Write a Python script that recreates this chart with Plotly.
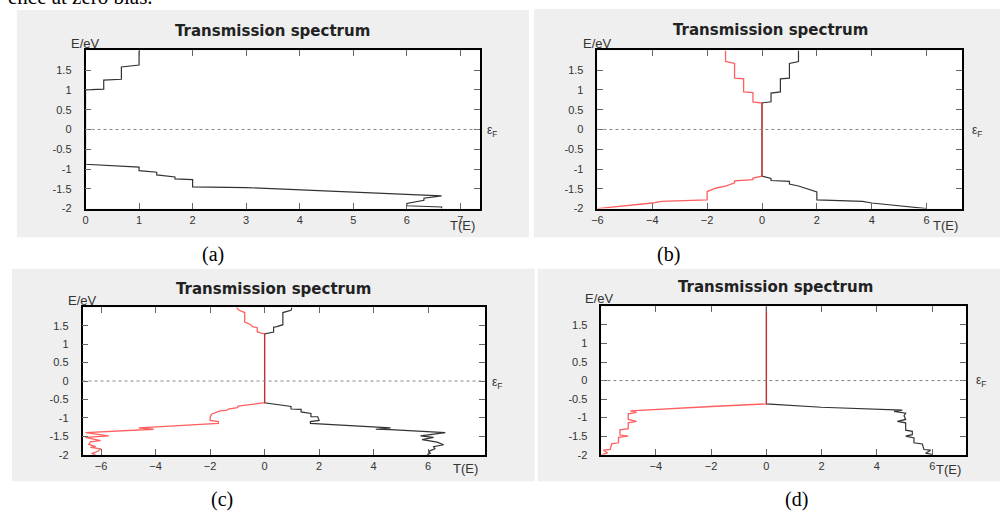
import plotly.graph_objects as go

W, H = 1000, 518

# ---- transmission data: T(E) for spin up (positive) and spin down (negative) ----
# (a) single spin channel
A_UP_E = [2.0, 1.63, 1.58, 1.27, 1.25, 1.02, 1.0, -0.88, -0.95, -1.04, -1.08, -1.15, -1.2,
          -1.25, -1.27, -1.45, -1.47, -1.56, -1.58, -1.68, -1.74, -1.79, -1.87, -1.93, -1.96, -2.0]
A_UP_T = [1.0, 1.0, 0.67, 0.67, 0.34, 0.34, 0.0, 0.0, 1.0, 1.0, 1.33, 1.33, 1.67,
          1.67, 2.0, 2.0, 3.0, 4.65, 4.67, 6.65, 6.32, 6.32, 6.0, 6.0, 6.65, 6.65]

# (b)
B_UP_E = [2.0, 1.72, 1.67, 1.3, 1.28, 0.95, 0.92, 0.7, 0.67, -1.18, -1.24, -1.29, -1.31,
          -1.38, -1.43, -1.58, -1.78, -1.82, -1.86, -2.0]
B_UP_T = [1.33, 1.33, 1.0, 1.0, 0.67, 0.67, 0.33, 0.33, 0.0, 0.0, 0.33, 0.33, 1.0,
          1.0, 1.33, 2.0, 2.0, 3.67, 4.0, 6.0]
B_DN_E = [2.0, 1.72, 1.67, 1.3, 1.28, 0.95, 0.93, 0.7, 0.67, -1.18, -1.23, -1.27, -1.3,
          -1.35, -1.43, -1.48, -1.57, -1.78, -1.82, -1.86, -2.0]
B_DN_T = [-1.33, -1.33, -1.0, -1.0, -0.67, -0.67, -0.33, -0.33, 0.0, 0.0, -0.33, -0.33, -1.0,
          -1.0, -1.33, -1.67, -2.0, -2.0, -3.67, -4.0, -6.0]

# (c)
C_UP_E = [2.0, 1.92, 1.86, 1.53, 1.48, 1.46, 1.33, 1.3, 1.28, -0.59, -0.69, -0.76, -0.77,
          -0.84, -0.88, -0.97, -0.97, -1.07, -1.1, -1.15, -1.26, -1.27, -1.31, -1.32, -1.4,
          -1.49, -1.53, -1.59, -1.66, -1.73, -1.78, -1.84, -1.91, -1.96, -2.0]
C_UP_T = [1.0, 0.97, 0.67, 0.67, 0.45, 0.33, 0.33, 0.15, 0.0, 0.0, 0.97, 0.97, 1.34,
          1.34, 1.7, 1.7, 1.95, 2.0, 1.68, 1.68, 4.0, 4.62, 4.08, 4.62, 6.63,
          5.72, 6.2, 5.78, 6.33, 6.57, 6.2, 6.25, 6.02, 6.08, 5.96]
C_DN_E = [2.0, 1.93, 1.86, 1.6, 1.53, 1.48, 1.45, 1.34, 1.3, 1.28, -0.59, -0.68, -0.72,
          -0.76, -0.8, -0.81, -0.9, -0.99, -1.07, -1.1, -1.15, -1.26, -1.27, -1.31, -1.33,
          -1.4, -1.49, -1.53, -1.62, -1.65, -1.72, -1.78, -1.8, -1.84, -1.9, -1.97, -2.0]
C_DN_T = [-1.03, -0.95, -0.73, -0.73, -0.5, -0.45, -0.27, -0.27, -0.12, 0.0, 0.0, -0.97, -1.0,
          -1.34, -1.4, -1.64, -1.95, -2.0, -2.0, -1.7, -1.7, -4.01, -4.62, -4.07, -4.6,
          -6.57, -5.72, -6.57, -6.02, -6.39, -6.45, -6.2, -6.39, -6.0, -6.1, -6.35, -6.2]

# (d)
D_UP_E = [2.0, -0.63, -0.72, -0.8, -0.83, -0.88, -0.95, -1.05, -1.1, -1.14, -1.34, -1.37,
          -1.46, -1.5, -1.55, -1.68, -1.71, -1.86, -1.88, -1.96, -2.0]
D_UP_T = [0.0, 0.0, 1.98, 4.92, 4.62, 5.04, 4.98, 5.04, 4.74, 5.04, 5.04, 5.28,
          5.28, 5.04, 5.34, 5.34, 5.64, 5.7, 5.94, 5.76, 6.02]
D_DN_E = [2.0, -0.63, -0.7, -0.8, -0.82, -0.86, -0.9, -1.05, -1.1, -1.14, -1.3, -1.33,
          -1.47, -1.5, -1.53, -1.68, -1.71, -1.86, -1.88, -1.95, -2.0]
D_DN_T = [0.0, 0.0, -2.0, -4.62, -4.92, -4.7, -5.0, -5.0, -4.7, -5.0, -5.0, -5.3,
          -5.3, -5.0, -5.35, -5.35, -5.6, -5.65, -5.9, -5.75, -5.95]

Y_TICKS = [-2, -1.5, -1, -0.5, 0, 0.5, 1, 1.5]
Y_TICK_TEXT = ["-2", "-1.5", "-1", "-0.5", "0", "0.5", "1", "1.5"]

PANEL_LABELS = ["(a)", "(b)", "(c)", "(d)"]

# panel geometry in pixels: plot box (left, top, right, bottom), grey frame, x range, x ticks
panels = [
    dict(box=(80, 51, 477, 211), frame=(11, 10, 526, 240), xr=[0, 7.37],
         xt=[0, 1, 2, 3, 4, 5, 6, 7], up=(A_UP_T, A_UP_E), dn=None,
         lab=(208, 257), tlab=(459, 228), ef=(489, 133), eev=(80, 44), title=(268, 31)),
    dict(box=(595, 51, 962, 211), frame=(531, 9, 1000, 240), xr=[-6, 7.3],
         xt=[-6, -4, -2, 0, 2, 4, 6], up=(B_UP_T, B_UP_E), dn=(B_DN_T, B_DN_E),
         lab=(666, 257), tlab=(945, 228), ef=(977, 133), eev=(595, 44), title=(769, 30)),
    dict(box=(77, 311, 482, 460), frame=(6, 272, 532, 487), xr=[-6.68, 8.09],
         xt=[-6, -4, -2, 0, 2, 4, 6], up=(C_UP_T, C_UP_E), dn=(C_DN_T, C_DN_E),
         lab=(217, 505), tlab=(462, 474), ef=(494, 387), eev=(77, 304), title=(269, 292)),
    dict(box=(599, 310, 966, 460), frame=(535, 272, 1000, 487), xr=[-5.97, 7.23],
         xt=[-4, -2, 0, 2, 4, 6], up=(D_UP_T, D_UP_E), dn=(D_DN_T, D_DN_E),
         lab=(795, 505), tlab=(948, 475), ef=(981, 385), eev=(597, 302), title=(774, 290)),
]


def px(x):
    return x / W


def py(y):
    return 1 - y / H


fig = go.Figure()
shapes = []
annotations = []
SANS = "Liberation Sans, Arial, sans-serif"
SERIF = "Liberation Serif, Times New Roman, serif"

for i, p in enumerate(panels):
    n = "" if i == 0 else str(i + 1)
    xa, ya = "x" + n, "y" + n
    l, t, r, b = p["box"]
    fl, ft, fr, fb = p["frame"]

    shapes.append(dict(type="rect", xref="paper", yref="paper", layer="below",
                       x0=px(fl), x1=px(fr), y0=py(fb), y1=py(ft),
                       fillcolor="#efefef", line=dict(width=0)))
    shapes.append(dict(type="rect", xref="paper", yref="paper", layer="below",
                       x0=px(l), x1=px(r), y0=py(b), y1=py(t),
                       fillcolor="white", line=dict(width=0)))
    # Fermi level
    shapes.append(dict(type="line", xref=xa + " domain", yref=ya, x0=0, x1=1, y0=0, y1=0,
                       line=dict(color="#888", width=1, dash="dot")))

    fig.add_trace(go.Scatter(x=p["up"][0], y=p["up"][1], mode="lines", xaxis=xa, yaxis=ya,
                             line=dict(color="#333333", width=1.2), showlegend=False))
    if p["dn"] is not None:
        fig.add_trace(go.Scatter(x=p["dn"][0], y=p["dn"][1], mode="lines", xaxis=xa, yaxis=ya,
                                 line=dict(color="#ff2a2a", width=1.3), opacity=0.75,
                                 showlegend=False))

    axis_common = dict(showline=True, linecolor="black", linewidth=1.6, mirror="ticks",
                       ticks="inside", ticklen=6, tickwidth=1, tickcolor="#666",
                       showgrid=False, zeroline=False,
                       tickfont=dict(family=SANS, size=11, color="#333"))
    fig.layout["xaxis" + n] = dict(domain=[px(l), px(r)], anchor=ya, range=p["xr"],
                                   tickvals=p["xt"], **axis_common)
    fig.layout["yaxis" + n] = dict(domain=[py(b), py(t)], anchor=xa, range=[-2, 2],
                                   tickvals=Y_TICKS, ticktext=Y_TICK_TEXT,
                                   ticklabelstandoff=10, **axis_common)

    annotations += [
        dict(text="<b>Transmission spectrum</b>", x=px(p["title"][0]), y=py(p["title"][1]),
             font=dict(family="DejaVu Sans, sans-serif", size=15, color="#222")),
        dict(text="E/eV", x=px(p["eev"][0]), y=py(p["eev"][1]),
             font=dict(family=SANS, size=13, color="#333")),
        dict(text="T(E)", x=px(p["tlab"][0]), y=py(p["tlab"][1]),
             font=dict(family=SANS, size=13, color="#333")),
        dict(text="ε<sub>F</sub>", x=px(p["ef"][0]), y=py(p["ef"][1]),
             font=dict(family=SANS, size=12, color="#333")),
        dict(text=PANEL_LABELS[i], x=px(p["lab"][0]), y=py(p["lab"][1]),
             font=dict(family=SERIF, size=20, color="black")),
    ]

annotations.append(dict(text="ence at zero bias.", x=px(0), y=py(-3), xanchor="left",
                        yanchor="middle", font=dict(family=SERIF, size=21, color="black")))

for a in annotations:
    a.setdefault("xref", "paper")
    a.setdefault("yref", "paper")
    a.setdefault("showarrow", False)
    a.setdefault("xanchor", "center")
    a.setdefault("yanchor", "middle")

fig.update_layout(width=W, height=H, margin=dict(l=0, r=0, t=0, b=0),
                  paper_bgcolor="white", plot_bgcolor="white",
                  shapes=shapes, annotations=annotations, showlegend=False)

fig.write_html("out.html")
